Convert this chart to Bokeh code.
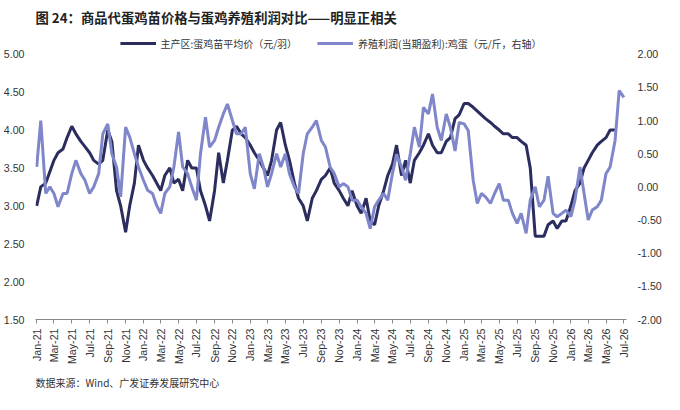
import pandas as pd
from math import pi
from bokeh.plotting import figure
from bokeh.models import (Range1d, LinearAxis, MonthsTicker, DatetimeTickFormatter,
                          NumeralTickFormatter, Legend, LegendItem, Title, FixedTicker)
from bokeh.embed import file_html
from bokeh.resources import INLINE

dark = [3.0,3.25, 3.3,3.45, 3.6,3.7, 3.75,3.9, 4.05,3.95, 3.85,3.78, 3.7,3.6, 3.55,3.6,
        4.0,3.85, 3.2,3.0, 2.65,3.0, 3.3,3.8,
        3.6,3.5, 3.4,3.3, 3.2,3.4, 3.5,3.3, 3.35,3.2, 3.6,3.5, 3.5,3.2, 3.0,2.8,
        3.2,3.7, 3.3,3.6, 4.0,4.05, 3.95,3.9,
        3.8,3.7, 3.6,3.5, 3.4,3.6, 4.0,4.1, 3.8,3.6, 3.3,3.1, 3.0,2.8, 3.1,3.2,
        3.35,3.4, 3.5,3.3, 3.2,3.1, 3.0,3.2,
        3.0,2.9, 3.1,2.8, 2.75,3.0, 3.2,3.4, 3.55,3.8, 3.4,3.6, 3.3,3.6, 3.7,3.8,
        3.95,3.8, 3.7,3.7, 3.85,3.9, 4.15,4.2,
        4.35,4.35, 4.3,4.25, 4.2,4.15, 4.1,4.05, 4.0,3.95, 3.95,3.9, 3.9,3.85,
        3.8,3.5, 2.6,2.6, 2.6,2.75, 2.8,2.7, 2.8,2.8,
        3.0,3.2, 3.3,3.5, 3.6,3.7, 3.8,3.85, 3.9,4.0, 4.0]
light = [0.3,1.0, -0.1,0.0, -0.1,-0.3, -0.1,-0.1, 0.2,0.4, 0.2,0.1, -0.1,0.0, 0.2,0.8,
         0.95,0.5, 0.3,-0.15, 0.9,0.75, 0.5,0.3,
         0.1,-0.05, -0.1,-0.28, -0.4,-0.1, 0.0,0.3, 0.83,0.3, 0.2,0.0, -0.2,0.5,
         1.05,0.6, 0.7,0.9, 1.1,1.25, 1.0,0.8,
         0.8,0.9, 0.2,-0.03, 0.5,0.3, 0.0,0.2, 0.5,0.3, 0.5,0.2, 0.0,-0.1, 0.5,0.8,
         0.9,1.0, 0.7,0.6, 0.3,0.2, 0.0,0.05,
         0.0,-0.2, -0.2,-0.3, -0.4,-0.63, -0.3,-0.2, -0.1,-0.2, 0.2,0.49, 0.3,0.1,
         0.5,0.9, 0.6,1.2, 1.1,1.4, 0.9,0.7,
         1.1,0.9, 0.54,0.97, 0.95,0.85, 0.1,-0.25, -0.1,-0.15, -0.25,-0.1, 0.05,-0.2,
         -0.2,-0.4, -0.55,-0.4, -0.7,-0.2, 0.0,-0.3, -0.2,0.16,
         -0.4,-0.45, -0.4,-0.35, -0.45,-0.2, 0.3,-0.1, -0.5,-0.35, -0.3,-0.2,
         0.2,0.3, 0.7,1.45, 1.35]

dates_d = pd.date_range("2021-01-01", periods=len(dark), freq="SMS")
dates_l = pd.date_range("2021-01-01", periods=len(light), freq="SMS")

DARK = "#2B2D5E"
LIGHT = "#7F86C9"

p = figure(width=664, height=394, x_axis_type="datetime", output_backend="svg",
           toolbar_location=None,
           x_range=Range1d(pd.Timestamp("2020-12-28"), pd.Timestamp("2026-07-10")),
           y_range=Range1d(1.5, 5.3), min_border_left=10, min_border_right=10)
p.extra_y_ranges = {"r": Range1d(-2.0, 2.0 + 0.3 / 0.875)}
p.outline_line_color = None
p.grid.visible = False

r1 = p.line(dates_d, dark, line_color=DARK, line_width=3)
r2 = p.line(dates_l, light, line_color=LIGHT, line_width=3, y_range_name="r")

ax = p.xaxis[0]
ax.ticker = MonthsTicker(months=[0, 2, 4, 6, 8, 10])
ax.formatter = DatetimeTickFormatter(months="%b-%y", days="%b-%y")
ax.major_label_orientation = pi / 2
ax.axis_line_color = "#888888"
ax.major_tick_line_color = "#888888"
ax.major_tick_out = 4
ax.major_tick_in = 0
ax.minor_tick_line_color = None

yl = p.yaxis[0]
yl.ticker = FixedTicker(ticks=[1.5, 2.0, 2.5, 3.0, 3.5, 4.0, 4.5, 5.0])
yr = LinearAxis(y_range_name="r", ticker=FixedTicker(ticks=[-2, -1.5, -1, -0.5, 0, 0.5, 1, 1.5, 2]))
p.add_layout(yr, "right")
for a in (yl, yr):
    a.formatter = NumeralTickFormatter(format="0.00")
    a.axis_line_color = None
    a.major_tick_line_color = None
    a.minor_tick_line_color = None
for a in (ax, yl, yr):
    a.major_label_text_font = "Liberation Sans"
    a.major_label_text_font_size = "8pt"
    a.major_label_text_color = "#333333"

legend = Legend(items=[LegendItem(label="主产区:蛋鸡苗平均价（元/羽）", renderers=[r1]),
                       LegendItem(label="养殖利润(当期盈利):鸡蛋（元/斤，右轴）", renderers=[r2])],
                orientation="horizontal", location="top_center", border_line_color=None,
                background_fill_alpha=0,
                label_text_font="Noto Sans CJK SC", label_text_font_size="7.5pt",
                label_text_color="#333333", glyph_width=36, spacing=20, padding=0, margin=2)
p.add_layout(legend)

p.add_layout(Title(text="数据来源：Wind、广发证券发展研究中心", text_font="Noto Sans CJK SC",
                   text_font_size="7.5pt", text_font_style="normal", text_color="#333333",
                   align="left"), "below")
p.add_layout(Title(text="图 24：商品代蛋鸡苗价格与蛋鸡养殖利润对比——明显正相关",
                   text_font="Noto Sans CJK SC", text_font_size="10pt",
                   text_font_style="bold", text_color="#222222", align="left"), "above")

open("out.html", "w").write(file_html(p, INLINE))
